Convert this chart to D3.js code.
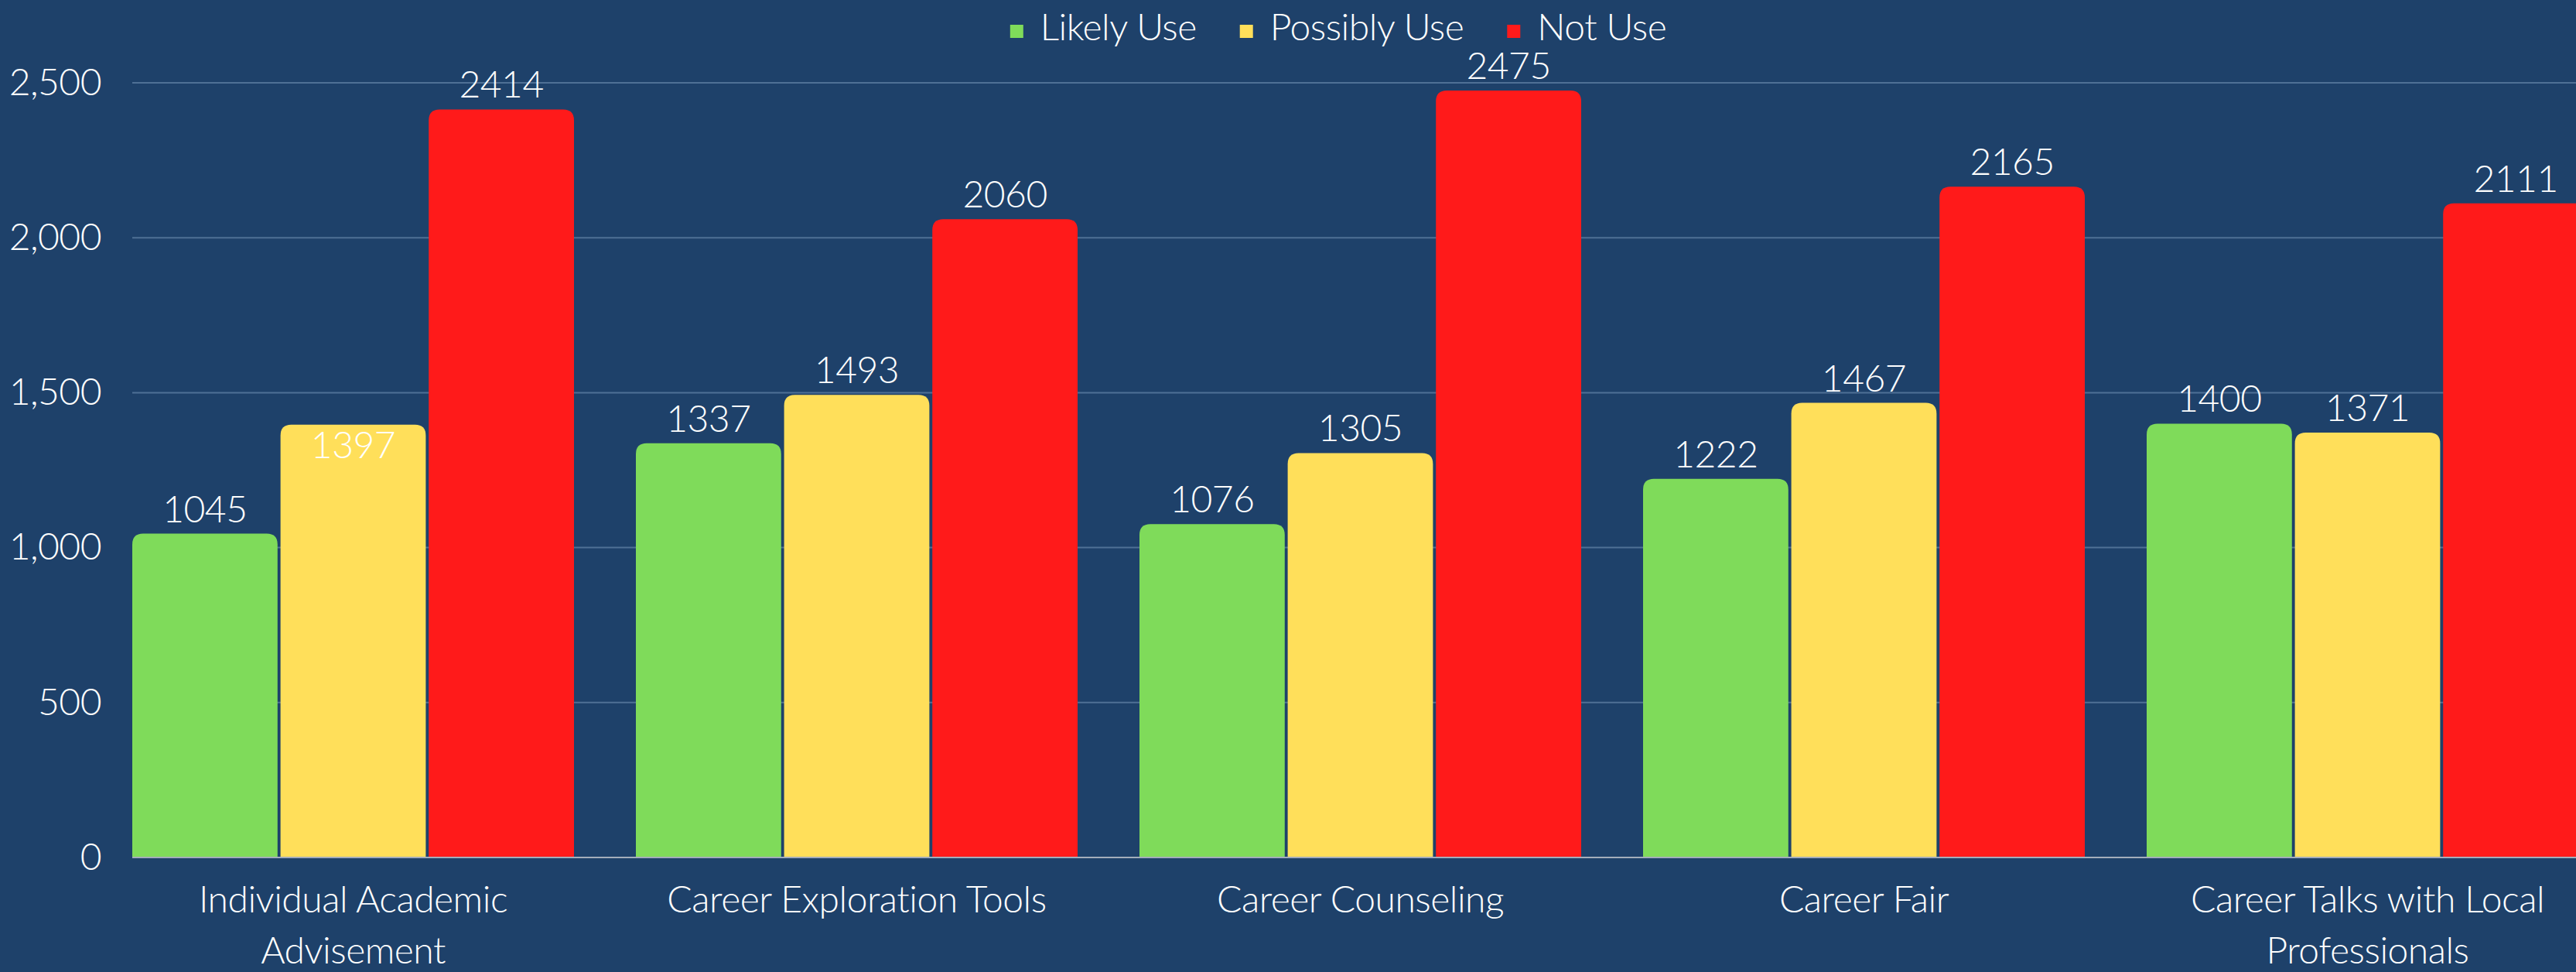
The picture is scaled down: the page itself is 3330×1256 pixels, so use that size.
<!DOCTYPE html>
<html>
<head>
<meta charset="utf-8">
<script src="https://cdn.jsdelivr.net/npm/d3@7"></script>
<style>
  html, body { margin: 0; padding: 0; background: #1e416a; overflow: hidden; }
  text { font-family: Lato, "Open Sans", sans-serif; font-weight: 300; fill: #ffffff; letter-spacing: -0.5px; }
</style>
</head>
<body>
<div id="chart"></div>
<script>
const categories = ["Individual Academic Advisement", "Career Exploration Tools", "Career Counseling", "Career Fair", "Career Talks with Local Professionals"]
const seriesNames = ["Likely Use", "Possibly Use", "Not Use"]
const likelyUse = [1045, 1337, 1076, 1222, 1400]
const possiblyUse = [1397, 1493, 1305, 1467, 1371]
const notUse = [2414, 2060, 2475, 2165, 2111]
const yTicks = [0, 500, 1000, 1500, 2000, 2500]
// labels the original puts inside the top of the bar
const insideLabels = ["Individual Academic Advisement|Possibly Use"]

const colors = ["#7fdb5a", "#ffdf5a", "#ff1a1a"]
const seriesValues = [likelyUse, possiblyUse, notUse]

const width = 3330, height = 1256
const fontSize = 48

let data = categories.map((c, i) => ({
    category: c,
    values: seriesNames.map((s, j) => ({category: c, series: s, value: seriesValues[j][i], color: colors[j]}))
}))

let svg = d3.select('#chart')
    .append('svg')
    .attr('width', width)
    .attr('height', height)

svg.append('rect')
    .attr('width', width)
    .attr('height', height)
    .attr('fill', '#1e416a')

let x0 = d3.scaleBand()
    .domain(categories)
    .range([131, 3386])
    .paddingInner(80 / 651)
    .paddingOuter(40 / 651)

let x1 = d3.scaleBand()
    .domain(seriesNames)
    .range([0, x0.bandwidth()])
    .paddingInner(0.02)

let y = d3.scaleLinear()
    .domain([0, 2500])
    .range([1108, 107])

// gridlines
svg.append('g')
    .selectAll('line')
    .data(yTicks.filter(d => d > 0))
    .enter()
    .append('line')
    .attr('x1', x0(categories[0]))
    .attr('x2', width)
    .attr('y1', d => y(d))
    .attr('y2', d => y(d))
    .attr('stroke', '#4f7095')
    .attr('stroke-width', 2)

// y axis labels
let yAxis = svg.append('g')
    .attr('transform', 'translate(131,0)')
    .call(d3.axisLeft(y).tickValues(yTicks).tickFormat(d3.format(',')).tickSize(0).tickPadding(0))
yAxis.select('.domain').remove()
yAxis.selectAll('text')
    .attr('font-size', fontSize)
    .attr('font-family', null)
    .attr('fill', '#ffffff')

const topRounded = (x, yTop, w, h, r) => {
    r = Math.min(r, h, w / 2)
    return 'M' + x + ',' + (yTop + h) +
        'V' + (yTop + r) +
        'Q' + x + ',' + yTop + ' ' + (x + r) + ',' + yTop +
        'H' + (x + w - r) +
        'Q' + (x + w) + ',' + yTop + ' ' + (x + w) + ',' + (yTop + r) +
        'V' + (yTop + h) + 'Z'
}

let groups = svg.append('g')
    .selectAll('.group')
    .data(data)
    .enter()
    .append('g')
    .attr('class', 'group')
    .attr('transform', d => 'translate(' + x0(d.category) + ',0)')

groups.selectAll('path')
    .data(d => d.values)
    .enter()
    .append('path')
    .attr('d', d => topRounded(x1(d.series), y(d.value), x1.bandwidth(), y(0) - y(d.value), 14))
    .attr('fill', d => d.color)

groups.selectAll('.value-label')
    .data(d => d.values)
    .enter()
    .append('text')
    .attr('class', 'value-label')
    .attr('x', d => x1(d.series) + x1.bandwidth() / 2)
    .attr('y', d => insideLabels.includes(d.category + '|' + d.series) ? y(d.value) + 43 : y(d.value) - 15)
    .attr('text-anchor', 'middle')
    .attr('font-size', fontSize)
    .text(d => d.value)

// baseline
svg.append('line')
    .attr('x1', x0(categories[0]))
    .attr('x2', width)
    .attr('y1', y(0))
    .attr('y2', y(0))
    .attr('stroke', '#a3adbb')
    .attr('stroke-width', 2)

// category labels, wrapped
let catLabels = svg.append('g')
    .selectAll('text')
    .data(categories)
    .enter()
    .append('text')
    .attr('x', d => x0(d) + x0.bandwidth() / 2)
    .attr('y', 1179)
    .attr('text-anchor', 'middle')
    .attr('font-size', fontSize)

catLabels.each(function(d){
    let el = d3.select(this)
    let words = d.split(' ')
    let lines = [], cur = []
    let tspan = el.append('tspan')
    words.forEach(w => {
        cur.push(w)
        tspan.text(cur.join(' '))
        if (tspan.node().getComputedTextLength() > 560 && cur.length > 1) {
            cur.pop()
            lines.push(cur.join(' '))
            cur = [w]
        }
    })
    lines.push(cur.join(' '))
    tspan.remove()
    lines.forEach((l, i) => {
        el.append('tspan')
            .attr('x', x0(d) + x0.bandwidth() / 2)
            .attr('dy', i === 0 ? 0 : 66)
            .text(l)
    })
})

// legend
let legend = svg.append('g')
let legendItems = legend.selectAll('g')
    .data(seriesNames)
    .enter()
    .append('g')

legendItems.append('rect')
    .attr('width', 17)
    .attr('height', 17)
    .attr('y', 32)
    .attr('fill', (d, i) => colors[i])

legendItems.append('text')
    .attr('x', 39)
    .attr('y', 52)
    .attr('font-size', fontSize)
    .text(d => d)

let offset = 0
legendItems.each(function(){
    let w = d3.select(this).select('text').node().getComputedTextLength()
    d3.select(this).attr('transform', 'translate(' + offset + ',0)')
    offset += 39 + w + 56
})
let legendWidth = offset - 56
legend.attr('transform', 'translate(' + (1730 - legendWidth / 2) + ',0)')
</script>
</body>
</html>
